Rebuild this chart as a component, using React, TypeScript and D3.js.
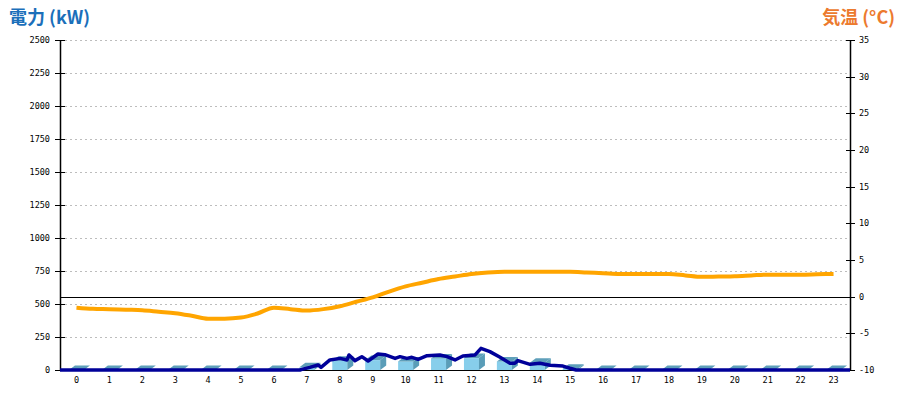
import React from "react";
import * as d3 from "d3";

const hours = [0,1,2,3,4,5,6,7,8,9,10,11,12,13,14,15,16,17,18,19,20,21,22,23];
const barValues = [0,0,0,0,0,0,0,20,70,75,65,88,90,65,55,10,0,0,0,0,0,0,0,0];

const powerTimes = [0,7.29,7.35,7.59,7.84,7.93,8.2,8.51,8.72,8.78,8.96,9.17,9.36,9.66,9.87,10.18,10.33,10.54,10.69,10.88,11.15,11.54,11.76,12.0,12.24,12.61,12.79,13.06,13.37,13.67,13.82,13.91,14.28,14.58,14.89,15.28,15.49,15.68,24];
const powerValues = [0,0,5,20,38,20,76,88,76,114,71,101,68,121,116,88,101,88,96,81,108,114,101,76,106,114,164,139,96,51,51,71,43,51,36,30,13,0,0];

const tempTimes = [0,0.5,1,1.5,2,2.5,3,3.5,4,4.5,5,5.5,6,6.5,7,7.5,8,8.5,9,9.5,10,10.5,11,11.5,12,12.5,13,13.5,14,14.5,15,15.5,16,16.5,17,17.5,18,18.5,19,19.5,20,20.5,21,21.5,22,22.5,23];
const tempValues = [-1.5,-1.65,-1.7,-1.78,-1.85,-2.05,-2.25,-2.6,-3.0,-3.0,-2.85,-2.3,-1.5,-1.7,-1.9,-1.7,-1.3,-0.7,-0.1,0.7,1.4,1.9,2.4,2.75,3.1,3.3,3.4,3.4,3.4,3.4,3.4,3.3,3.2,3.1,3.1,3.1,3.1,2.9,2.7,2.75,2.8,2.9,3.0,3.0,3.0,3.05,3.1];

const powerTicks = [0,250,500,750,1000,1250,1500,1750,2000,2250,2500];
const tempTicks = [-10,-5,0,5,10,15,20,25,30,35];

const L = 60, R = 850, T = 40, B = 370;

export default function App() {
  const x = d3.scaleBand<number>().domain(hours).range([L, R]);
  const bw = x.bandwidth();
  const cx = (h: number) => (x(h) as number) + bw / 2;
  const xTime = d3.scaleLinear().domain([0, 24]).range([L, R]);
  const yP = d3.scaleLinear().domain([0, 2500]).range([B, T]);
  const yT = d3.scaleLinear().domain([-10, 35]).range([B, T]);

  const powerLine = d3.line<number>()
    .x((_, i) => xTime(powerTimes[i]))
    .y((d) => yP(d))(powerValues) as string;
  const tempLine = d3.line<number>()
    .x((_, i) => cx(0) + tempTimes[i] * bw)
    .y((d) => yT(d))
    .curve(d3.curveMonotoneX)(tempValues) as string;

  const fw = 15, dx = 6, dy = 4.5;
  const mono = "'DejaVu Sans Mono', monospace";

  return (
    <svg width={900} height={400} style={{ position: "absolute", left: 0, top: 0, background: "#fff" }}>
      <text x={9} y={24} fontFamily="'Noto Sans CJK JP', sans-serif" fontWeight="bold" fontSize={18} fill="#1B6FBA">電力 (kW)</text>
      <text x={895} y={24} textAnchor="end" fontFamily="'Noto Sans CJK JP', sans-serif" fontWeight="bold" fontSize={18} fill="#EC7A2E">気温 (°C)</text>

      {powerTicks.map((t) => (
        <g key={"pg" + t}>
          {t > 0 && (
            <line x1={65} x2={847} y1={Math.round(yP(t)) + 0.5} y2={Math.round(yP(t)) + 0.5} stroke="#bdbdbd" strokeDasharray="2,3" />
          )}
          <line x1={55} x2={65} y1={Math.round(yP(t)) + 0.5} y2={Math.round(yP(t)) + 0.5} stroke="#000" />
          <text x={50} y={yP(t)} dy="0.35em" textAnchor="end" fontFamily={mono} fontSize={8.5} fill="#000">{t}</text>
        </g>
      ))}
      {tempTicks.map((t) => (
        <g key={"tg" + t}>
          <line x1={846} x2={855} y1={Math.round(yT(t)) + 0.5} y2={Math.round(yT(t)) + 0.5} stroke="#000" />
          <text x={859} y={yT(t)} dy="0.35em" fontFamily={mono} fontSize={8.5} fill="#000">{t}</text>
        </g>
      ))}
      {hours.map((h) => (
        <text key={"xl" + h} x={cx(h)} y={383} textAnchor="middle" fontFamily={mono} fontSize={8.5} fill="#000">{h}</text>
      ))}

      <line x1={L + 0.5} x2={L + 0.5} y1={T} y2={B} stroke="#000" strokeWidth={1.5} />
      <line x1={R + 0.5} x2={R + 0.5} y1={T} y2={B} stroke="#000" strokeWidth={1.5} />
      <line x1={L} x2={R} y1={B + 0.5} y2={B + 0.5} stroke="#000" />

      {hours.map((h, i) => {
        const v = barValues[i];
        const x0 = cx(h) - fw / 2, x1 = cx(h) + fw / 2;
        const yt = yP(v);
        return (
          <g key={"b" + h}>
            {v > 0 && <rect x={x0} y={yt} width={fw} height={B - yt} fill="#87CEEB" />}
            {v > 0 && (
              <polygon points={`${x1},${B} ${x1 + dx},${B - dy} ${x1 + dx},${yt - dy} ${x1},${yt}`} fill="#5A9DB8" />
            )}
            <polygon points={`${x0},${yt} ${x0 + dx},${yt - dy} ${x1 + dx},${yt - dy} ${x1},${yt}`} fill="#5E9FBA" />
          </g>
        );
      })}

      <path d={powerLine} fill="none" stroke="#000099" strokeWidth={3.5} strokeLinejoin="round" />
      <line x1={L} x2={R} y1={Math.round(yT(0)) + 0.5} y2={Math.round(yT(0)) + 0.5} stroke="#000" strokeWidth={1.2} />
      <path d={tempLine} fill="none" stroke="#FFA500" strokeWidth={4} />
    </svg>
  );
}
